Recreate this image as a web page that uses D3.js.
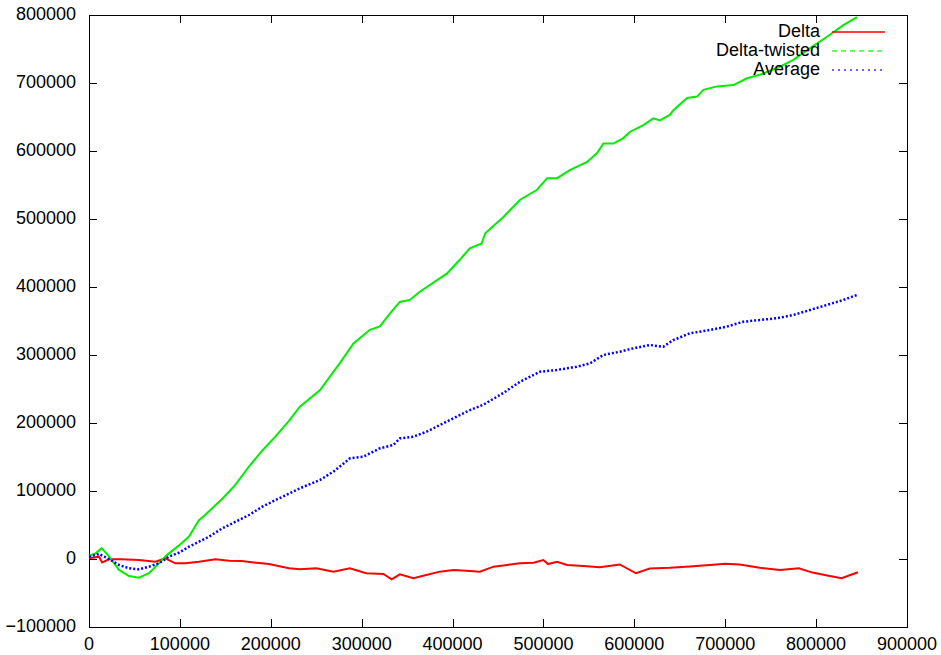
<!DOCTYPE html>
<html><head><meta charset="utf-8">
<script src="https://cdn.jsdelivr.net/npm/d3@7"></script>
<style>
html,body{margin:0;padding:0;background:#fff;}
svg{display:block;}
text{font-family:"Liberation Sans",Arial,sans-serif;font-size:18px;fill:#000;}
</style></head>
<body>
<svg id="chart" width="941" height="655"></svg>
<script>
// ---- data ----
const xTicks = [0,100000,200000,300000,400000,500000,600000,700000,800000,900000];
const yTicks = [-100000,0,100000,200000,300000,400000,500000,600000,700000,800000];
const seriesNames = ["Delta","Delta-twisted","Average"];

const deltaX = [0,11000,14500,22000,36000,55000,73000,84000,95000,106000,121000,139000,154000,168000,184000,198000,220000,232000,250000,269000,287000,305000,324000,333000,342000,357000,371000,386000,401000,415000,430000,445000,460000,474000,489000,500000,505000,515000,526000,544000,562000,584000,601800,617000,639000,661000,683000,700000,716000,738000,760000,781000,796000,815000,828000,846000];
const deltaY = [1000,3400,-5000,-500,-500,-1500,-4000,1000,-6300,-6300,-4000,-400,-2500,-3000,-5400,-7400,-13700,-15200,-13700,-18600,-13700,-21000,-22100,-29900,-22500,-28400,-23500,-18600,-16200,-17200,-18600,-11300,-8800,-6300,-5400,-1500,-7400,-4000,-8800,-10300,-12200,-8000,-21000,-14000,-13000,-11000,-9000,-7000,-8000,-13000,-16200,-13700,-20000,-25000,-28400,-19500];

const twistedX = [0,7000,14000,22000,33000,44000,55000,66000,72000,78000,85000,99000,110000,121000,128000,147000,161000,176000,191000,205000,220000,232000,254000,276000,291000,309000,320000,331000,342000,353000,364000,383000,394000,408000,419000,432000,436000,456000,474000,493000,504000,515000,529000,548000,559000,566000,577000,588000,595000,610000,621000,628000,639000,643000,658000,669000,676000,691000,709000,724000,738000,757000,775000,793000,812000,830000,845000];
const twistedY = [5000,8000,16000,4000,-16000,-25000,-27500,-21000,-13000,-5000,5000,20000,33000,57000,65000,89000,109000,136000,160000,180000,203000,224000,248000,288000,317000,337000,342000,361000,378000,381000,393000,410000,420000,440000,457000,464000,479000,503000,528000,543000,560000,560000,572000,584000,597000,611000,611000,619000,628000,638000,648000,645000,653000,660000,678000,680000,690000,695000,697000,707000,712000,722000,734000,751000,768000,785000,797000];

const averageX = [0,11000,22000,33000,44000,55000,66000,77000,88000,99000,110000,121000,132000,146700,161400,176000,190700,205400,220000,232100,254200,268800,287200,301800,320200,334800,342200,356800,371500,386200,400800,415600,419200,433900,455800,474200,496200,514600,536600,551200,565900,584200,598900,617200,631900,642900,661200,683200,701600,719900,738300,756600,774900,793300,811600,829900,844700];
const averageY = [3400,7400,0,-8800,-13700,-15200,-11300,-6300,3400,9300,18100,25400,32800,45100,54900,64700,76900,86800,96000,104000,116200,128400,148100,150400,162800,167600,177500,179900,187200,197100,206900,216700,219000,227000,244000,260700,275400,277900,282800,287800,300000,304900,309800,314700,312200,322000,331900,336800,341600,349000,351500,354000,358800,366200,373500,380900,388200];

// ---- layout ----
const mLeft = 89, mRight = 907, mTop = 15, mBottom = 627;
const svg = d3.select("#chart");
const x = d3.scaleLinear().domain([0,900000]).range([mLeft,mRight]);
const y = d3.scaleLinear().domain([-100000,800000]).range([mBottom,mTop]);

const colors = ["#ff0000","#00ee00","#0000ff"];

// frame
svg.append("rect").attr("x",mLeft+0.5).attr("y",mTop+0.5)
  .attr("width",mRight-mLeft).attr("height",mBottom-mTop)
  .attr("fill","none").attr("stroke","#000").attr("stroke-width",1);

const tickLen = 8;
const gx = svg.append("g");
xTicks.forEach(t => {
  const px = Math.round(x(t)) + 0.5;
  gx.append("line").attr("x1",px).attr("x2",px).attr("y1",mBottom).attr("y2",mBottom-tickLen).attr("stroke","#000");
  gx.append("line").attr("x1",px).attr("x2",px).attr("y1",mTop).attr("y2",mTop+tickLen).attr("stroke","#000");
  gx.append("text").attr("x",x(t)).attr("y",645).attr("text-anchor","middle").attr("dominant-baseline","middle").text(d3.format("d")(t));
});
const gy = svg.append("g");
yTicks.forEach(t => {
  const py = Math.round(y(t)) + 0.5;
  gy.append("line").attr("x1",mLeft).attr("x2",mLeft+tickLen).attr("y1",py).attr("y2",py).attr("stroke","#000");
  gy.append("line").attr("x1",mRight).attr("x2",mRight-tickLen).attr("y1",py).attr("y2",py).attr("stroke","#000");
  gy.append("text").attr("x",76).attr("y",y(t)).attr("text-anchor","end").attr("dominant-baseline","middle").text(d3.format("d")(t));
});

// lines
const line = d3.line().x(d => x(d[0])).y(d => y(d[1]));
const series = [
  {xs: deltaX, ys: deltaY, dash: null, w: 2},
  {xs: twistedX, ys: twistedY, dash: null, w: 2},
  {xs: averageX, ys: averageY, dash: "2,2", w: 2.5}
];
series.forEach((s,i) => {
  const pts = s.xs.map((v,j) => [v, s.ys[j]]);
  svg.append("path").attr("d", line(pts)).attr("fill","none")
    .attr("stroke", colors[i]).attr("stroke-width", s.w)
    .attr("stroke-dasharray", s.dash);
});

// legend
const legDash = ["none", "5,4", "2,4"];
const legColors = ["#ff0000","#33ff33","#3333ff"];
seriesNames.forEach((name,i) => {
  const ly = 32 + i*19;
  svg.append("text").attr("x",820).attr("y",ly).attr("text-anchor","end").attr("dominant-baseline","middle").text(name);
  svg.append("line").attr("x1",832).attr("x2",885).attr("y1",ly).attr("y2",ly)
    .attr("stroke",legColors[i]).attr("stroke-width",1.3).attr("stroke-dasharray",legDash[i]);
});
</script>
</body></html>
